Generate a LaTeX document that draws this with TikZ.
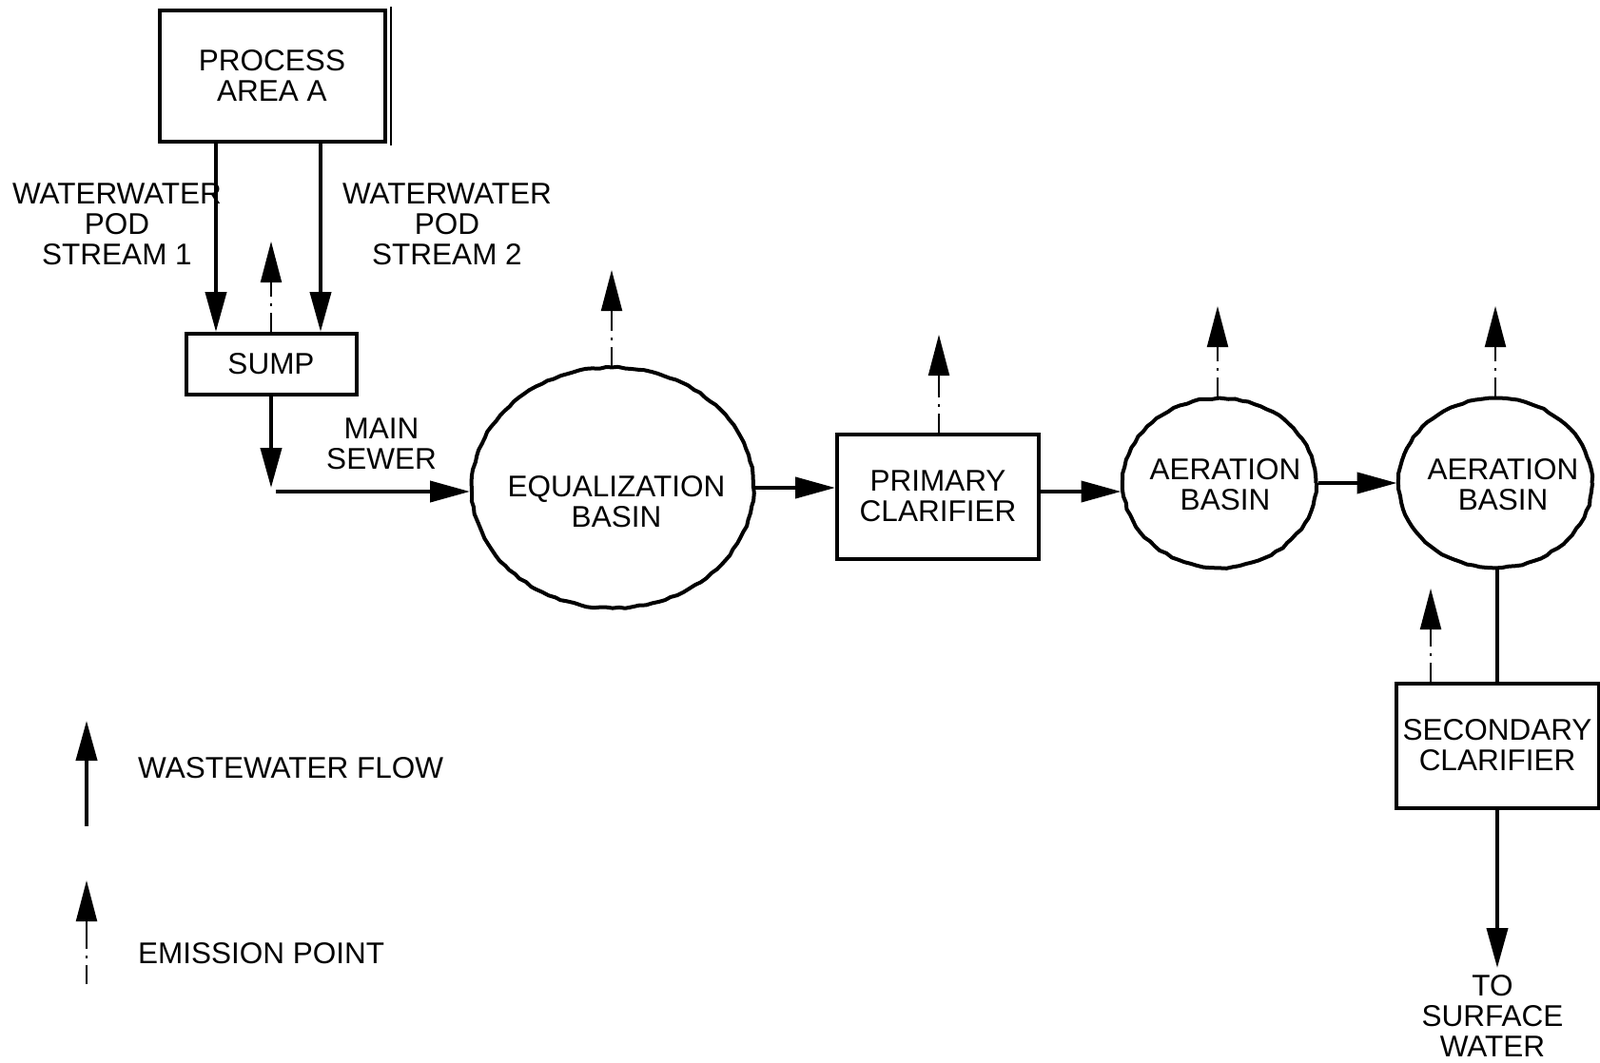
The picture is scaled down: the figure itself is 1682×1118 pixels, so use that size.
\documentclass[tikz,border=0pt]{standalone}
\usepackage{fontspec}
\setmainfont{Liberation Sans}
\usetikzlibrary{arrows.meta,shapes.geometric,decorations.pathmorphing}
\begin{document}
\begin{tikzpicture}[x=1pt,y=-1pt,
  txt/.style={font=\fontsize{31.5}{32}\selectfont, align=center, inner sep=0pt},
  box/.style={draw, line width=4pt, rectangle, inner sep=0pt, txt},
  basin/.style={draw, ellipse, line width=4pt, inner sep=0pt, line join=round,
    decorate, decoration={random steps, segment length=7pt, amplitude=0.8pt}},
  flow/.style={line width=4pt, -{Triangle[length=42pt,width=22pt]}},
  plainflow/.style={line width=4pt},
  emis/.style={line width=2pt, dash pattern=on 20pt off 7pt on 3pt off 7pt on 300pt off 1pt,
    -{Triangle[length=43pt,width=22pt]}},
]
\useasboundingbox (0,0) rectangle (1682,1118);

% nodes
\node[box, minimum width=237pt, minimum height=138pt] (proc) at (286,80) {PROCESS\\AREA A};
\draw[line width=1.5pt] ([xshift=4.5pt,yshift=2pt]proc.north east) -- ([xshift=4.5pt,yshift=-2pt]proc.south east);
\node[box, minimum width=179pt, minimum height=64pt] (sump) at (285,383) {SUMP};
\node[basin, minimum width=296pt, minimum height=253pt] (eq) at (644,513) {};
\node[txt] (eqt) at (648,528) {EQUALIZATION\\BASIN};
\node[box, minimum width=212pt, minimum height=131pt] (prim) at (986,522) {PRIMARY\\CLARIFIER};
\node[basin, minimum width=203pt, minimum height=178pt] (aer1) at (1282,508) {};
\node[txt] (aer1t) at (1288,510) {AERATION\\BASIN};
\node[basin, minimum width=203pt, minimum height=178pt] (aer2) at (1572,508) {};
\node[txt] (aer2t) at (1580,510) {AERATION\\BASIN};
\node[box, minimum width=213pt, minimum height=131pt] (sec) at (1574,784) {SECONDARY\\CLARIFIER};

% labels
\node[txt] (l1) at (123,236) {WATERWATER\\POD\\STREAM 1};
\node[txt] (l2) at (470,236) {WATERWATER\\POD\\STREAM 2};
\node[txt] (ms) at (401,467) {MAIN\\SEWER};
\node[txt] (out) at (1569,1068) {TO\\SURFACE\\WATER};
\node[txt, anchor=west] (lg1) at (145,808) {WASTEWATER FLOW};
\node[txt, anchor=west] (lg2) at (145,1003) {EMISSION POINT};

% coordinates
\coordinate (s1) at (285,513);
\coordinate (s2) at (290,517);
\coordinate (e0) at (285,254);
\coordinate (e1) at (643,284);
\coordinate (e2) at (987,352);
\coordinate (e3) at (1280,322);
\coordinate (e4) at (1572,322);
\coordinate (e5) at (1504,619);
\coordinate (o1) at (1574,1018);
\coordinate (lf1) at (91,869);
\coordinate (lf2) at (91,758);
\coordinate (le1) at (91,1035);
\coordinate (le2) at (91,926);

% flows
\draw[flow] ([xshift=-59pt]proc.south) -- ([xshift=-59pt]proc.south |- sump.north);
\draw[flow] ([xshift=51pt]proc.south) -- ([xshift=51pt]proc.south |- sump.north);
\draw[flow] (sump.south) -- (s1);
\draw[flow] (s2) -- (s2 -| eq.west);
\draw[flow] (eq.east) -- (eq.east -| prim.west);
\draw[flow] ([yshift=5pt]prim.east) -- ([yshift=5pt]prim.east -| aer1.west);
\draw[flow] (aer1.east) -- (aer2.west);
\draw[plainflow] (aer2.south -| sec.north) -- (sec.north);
\draw[flow] (sec.south) -- (o1);

% emissions
\draw[emis] (sump.north) -- (e0);
\draw[emis] (eq.north -| e1) -- (e1);
\draw[emis] (prim.north -| e2) -- (e2);
\draw[emis] (aer1.north -| e3) -- (e3);
\draw[emis] (aer2.north) -- (e4);
\draw[emis] (sec.north -| e5) -- (e5);

% legend
\draw[flow] (lf1) -- (lf2);
\draw[emis] (le1) -- (le2);
\end{tikzpicture}
\end{document}
